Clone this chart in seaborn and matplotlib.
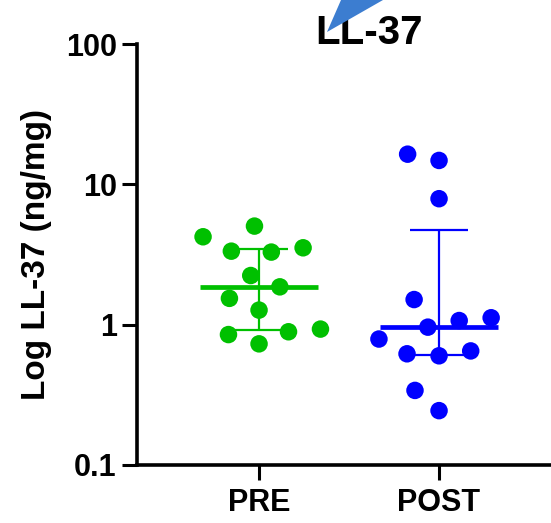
import numpy as np
import pandas as pd
import matplotlib
matplotlib.use("Agg")
import matplotlib.pyplot as plt
from matplotlib.patches import Polygon
import seaborn as sns

# values (ng/mg)
groups = ["PRE", "POST"]
pre_vals = [5.04, 3.29, 3.34, 3.53, 4.23, 2.24, 1.86, 1.54, 1.27, 0.93, 0.85, 0.89, 0.73]
post_vals = [14.8, 16.4, 7.9, 1.51, 1.07, 1.12, 0.96, 0.79, 0.62, 0.60, 0.65, 0.34, 0.244]
colors = ["#00C000", "#0000FF"]
y_ticks = [0.1, 1, 10, 100]
y_ticklabels = ["0.1", "1", "10", "100"]

df = pd.DataFrame({
    "group": ["PRE"] * len(pre_vals) + ["POST"] * len(post_vals),
    "value": pre_vals + post_vals,
})

sns.set_style("ticks")
plt.rcParams["font.family"] = ["Liberation Sans", "DejaVu Sans"]
plt.rcParams["font.weight"] = "bold"
for k in ["text.color", "axes.labelcolor", "xtick.color", "ytick.color"]:
    plt.rcParams[k] = "black"

fig = plt.figure(figsize=(5.51, 5.23), dpi=100)
ax = fig.add_axes([137 / 551, 58 / 523, 414 / 551, 421 / 523])
ax.set_yscale("log")
ax.set_ylim(0.1, 100)

n_before = len(ax.collections)
# swarm laid out with a wider spacing, dots shrunk afterwards (GraphPad-like spread)
sns.swarmplot(data=df, x="group", y="value", hue="group", order=groups,
              palette=colors, size=22, linewidth=0, ax=ax, legend=False)
swarm = ax.collections[n_before:]

# median with interquartile range (GraphPad style quartiles)
for i, vals in enumerate([pre_vals, post_vals]):
    med = np.median(vals)
    q1, q3 = np.percentile(vals, [25, 75], method="weibull")
    c = colors[i]
    ax.hlines(med, i - 0.33, i + 0.33, color=c, lw=3.4, zorder=3)
    ax.vlines(i, q1, q3, color=c, lw=1.6, zorder=3)
    ax.hlines([q1, q3], i - 0.163, i + 0.163, color=c, lw=1.6, zorder=3)

ax.set_xlim(-0.678, 1.622)
ax.set_yticks(y_ticks)
ax.set_yticklabels(y_ticklabels)
ax.yaxis.set_minor_locator(matplotlib.ticker.NullLocator())
ax.tick_params(axis="both", labelsize=22, width=2.2, length=10.5, color="black")
ax.tick_params(axis="y", pad=4)
ax.tick_params(axis="x", pad=6)
for lab in ax.get_xticklabels() + ax.get_yticklabels():
    lab.set_fontweight("bold")

ax.set_xlabel("")
ax.set_ylabel("Log LL-37 (ng/mg)", fontsize=24, fontweight="bold", labelpad=10)
sns.despine(ax=ax)
for s in ["left", "bottom"]:
    ax.spines[s].set_linewidth(2.6)
    ax.spines[s].set_color("black")

fig.text(369 / 551, 1 - 44 / 523, "LL-37", fontsize=29, fontweight="bold",
         ha="center", va="baseline")

# partial blue arrow from the source figure
arrow = Polygon([[327 / 551, 1 - 32 / 523], [341 / 551, 1.0], [383 / 551, 1.0]],
                closed=True, transform=fig.transFigure, facecolor="#3C7DD0",
                edgecolor="none", zorder=10)
fig.patches.append(arrow)

# fix the swarm positions, then shrink the dots to their real size
fig.canvas.draw()
for coll in swarm:
    coll.draw = type(coll).draw.__get__(coll)
    coll.set_sizes([12.6 ** 2])

fig.savefig("out.png", dpi=100)
